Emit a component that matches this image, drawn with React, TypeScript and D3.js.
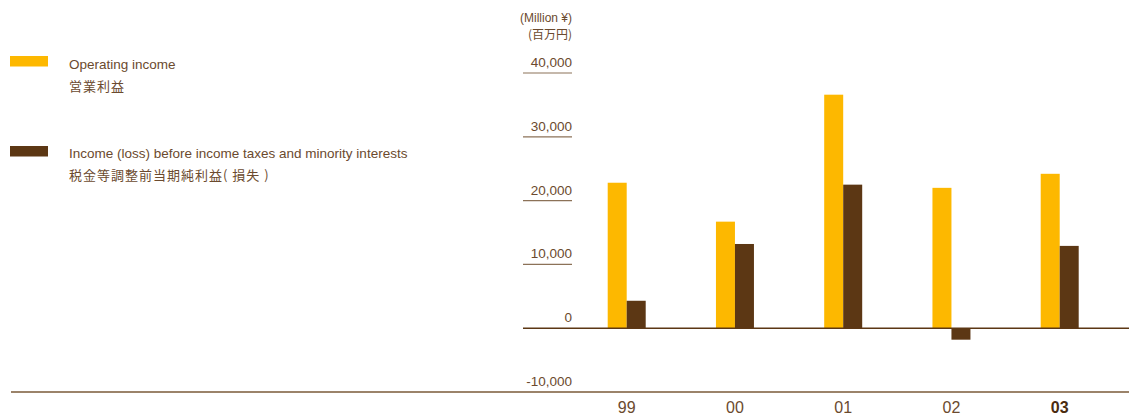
import * as d3 from "d3";

const years = ["99", "00", "01", "02", "03"];
const operatingIncome = [22800, 16700, 36600, 22000, 24200];
const pretaxIncome = [4300, 13200, 22500, -1800, 12900];
const yTicks = [-10000, 0, 10000, 20000, 30000, 40000];

const ORANGE = "#fdb800";
const BROWN = "#5c3714";
const TEXT = "#6b4a2e";
const FONT = "'Liberation Sans', Arial, sans-serif";
const CJK = "'Noto Sans CJK JP', sans-serif";

export default function App() {
  const width = 1129;
  const height = 415;

  const x = d3.scalePoint<string>().domain(years).range([626.7, 1059.7]);
  const sub = d3.scaleBand<string>().domain(["op", "pre"]).range([-19, 19]);
  const y = d3.scaleLinear().domain([-10000, 40000]).range([392, 73]);
  const fmt = (v: number) => d3.format(",")(v).replace("−", "-");

  const series = [
    { key: "op", values: operatingIncome, color: ORANGE },
    { key: "pre", values: pretaxIncome, color: BROWN },
  ];

  return (
    <svg
      width={width}
      height={height}
      style={{ position: "absolute", left: 0, top: 0, fontFamily: FONT }}
    >
      {/* legend */}
      <rect x={10} y={56} width={38} height={10.5} fill={ORANGE} />
      <text x={69} y={69} fontSize={13.5} fill={TEXT}>Operating income</text>
      <text x={69} y={91} fontSize={13} letterSpacing={1} fill={TEXT} fontFamily={CJK}>営業利益</text>
      <rect x={10} y={146} width={38} height={10.5} fill={BROWN} />
      <text x={69} y={158} fontSize={13.5} fill={TEXT}>
        Income (loss) before income taxes and minority interests
      </text>
      <text x={69} y={180} fontSize={13} letterSpacing={1} fill={TEXT} fontFamily={CJK}>
        税金等調整前当期純利益( 損失 )
      </text>

      {/* unit */}
      <text x={572} y={22} fontSize={12} fill={TEXT} textAnchor="end">(Million ¥)</text>
      <text x={572} y={39} fontSize={12} fill={TEXT} textAnchor="end" fontFamily={CJK}>(百万円)</text>

      {/* y ticks */}
      {yTicks.map((t) => (
        <g key={t}>
          {t > 0 && (
            <line x1={523} x2={572} y1={y(t)} y2={y(t)} stroke="#8c7258" strokeWidth={1.2} />
          )}
          <text x={572} y={y(t) - 6} fontSize={13.5} fill={TEXT} textAnchor="end">
            {fmt(t)}
          </text>
        </g>
      ))}

      {/* bars */}
      {series.map((s) =>
        s.values.map((v, i) => (
          <rect
            key={s.key + i}
            x={(x(years[i]) ?? 0) + (sub(s.key) ?? 0)}
            width={sub.bandwidth()}
            y={y(Math.max(0, v))}
            height={Math.abs(y(v) - y(0))}
            fill={s.color}
          />
        ))
      )}

      {/* zero line */}
      <line x1={523} x2={width} y1={y(0)} y2={y(0)} stroke={BROWN} strokeWidth={1.5} />
      {/* bottom line */}
      <line x1={11} x2={width} y1={y(-10000)} y2={y(-10000)} stroke="#7a5a38" strokeWidth={1.5} />

      {/* year labels */}
      {years.map((yr, i) => (
        <text
          key={yr}
          x={x(yr)}
          y={413}
          fontSize={16}
          fill={i === years.length - 1 ? "#4a2c10" : TEXT}
          fontWeight={i === years.length - 1 ? "bold" : "normal"}
          textAnchor="middle"
        >
          {yr}
        </text>
      ))}
    </svg>
  );
}
